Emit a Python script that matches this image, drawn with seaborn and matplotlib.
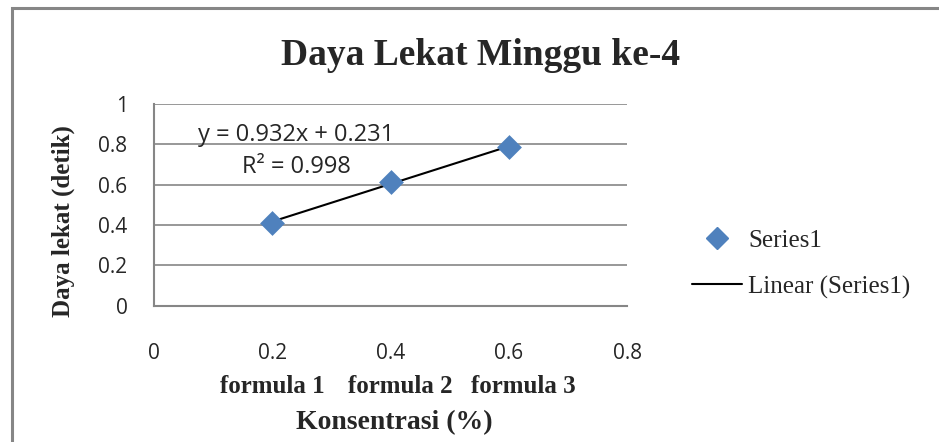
# Daya Lekat Minggu ke-4 - scatter with linear trendline

import numpy as np
import pandas as pd
import matplotlib
matplotlib.use("Agg")
import matplotlib.pyplot as plt
import seaborn as sns
from matplotlib.lines import Line2D
from matplotlib.patches import Rectangle

# Data
konsentrasi = [0.2, 0.4, 0.6]
daya_lekat = [0.4125, 0.6135, 0.7853]
formula_labels = ["formula 1", "formula 2", "formula 3"]
x_ticks = [0, 0.2, 0.4, 0.6, 0.8]
y_ticks = [0, 0.2, 0.4, 0.6, 0.8, 1]

df = pd.DataFrame({"x": konsentrasi, "y": daya_lekat})

sns.set_style("white")
serif = ["Liberation Serif", "DejaVu Serif"]
sans = ["Open Sans", "DejaVu Sans"]

fig = plt.figure(figsize=(9.39, 4.42), dpi=100)
ax = fig.add_axes([0.164, 0.308, 0.504, 0.457])

# Linear trendline
slope, intercept = np.polyfit(df["x"], df["y"], 1)
y_fit = slope * df["x"] + intercept
r2 = 1 - ((df["y"] - y_fit) ** 2).sum() / ((df["y"] - df["y"].mean()) ** 2).sum()
line_x = np.array([min(konsentrasi), max(konsentrasi)])
ax.plot(line_x, slope * line_x + intercept, color="black", lw=1.5, zorder=3)

# Points
sns.scatterplot(data=df, x="x", y="y", marker="D", s=160, color="#4F81BD",
                edgecolor="#4F81BD", linewidth=0, ax=ax, zorder=4)

ax.set_xlim(0, 0.8)
ax.set_ylim(0, 1)
ax.set_xticks(x_ticks)
ax.set_yticks(y_ticks)
ax.set_xticklabels([f"{t:g}" for t in x_ticks], fontsize=15, family=sans)
ax.set_yticklabels([f"{t:g}" for t in y_ticks], fontsize=15, family=sans)
ax.tick_params(axis="both", direction="out", length=7, width=1.2,
               color="#868686")
ax.tick_params(axis="y", pad=12)
ax.tick_params(axis="x", pad=20)

# Horizontal gridlines only
ax.grid(axis="y", color="#868686", lw=1.2)
ax.grid(axis="x", visible=False)
for s in ["top", "right"]:
    ax.spines[s].set_visible(False)
for s in ["left", "bottom"]:
    ax.spines[s].set_color("#868686")
    ax.spines[s].set_linewidth(1.5)

ax.set_xlabel("")
ax.set_ylabel("Daya lekat (detik)", fontsize=18, fontweight="bold",
              family=serif)
ax.yaxis.set_label_coords(-0.167, 0.418)

# Formula labels under ticks (slightly shifted right like the original)
shifts = [0, 10, 14]
for xv, lab, dx in zip(konsentrasi, formula_labels, shifts):
    ax.annotate(lab, xy=(xv, -0.4), xytext=(dx, 0), textcoords="offset pixels",
                ha="center", va="center", fontsize=18, fontweight="bold",
                family=serif, annotation_clip=False)

fig.text(0.42, 0.045, "Konsentrasi (%)", ha="center", va="center",
         fontsize=20, fontweight="bold", family=serif)

# Equation
ax.text(0.0745, 0.846, f"y = {slope:.3f}x + {intercept:.3f}", fontsize=17,
        family=sans, va="center")
ax.text(0.149, 0.685, f"R² = {r2:.3f}", fontsize=17, family=sans, va="center")

# Title
fig.text(0.512, 0.875, "Daya Lekat Minggu ke-4", ha="center", va="center",
         fontsize=27, fontweight="bold", family=serif)

# Legend
handles = [
    Line2D([], [], marker="D", ls="none", color="#4F81BD", markersize=11),
    Line2D([], [], color="black", lw=1.5),
]
fig.legend(handles, ["Series1", "Linear (Series1)"], loc="center left",
           bbox_to_anchor=(0.737, 0.403), frameon=False,
           prop={"family": serif, "size": 18}, handlelength=2.0,
           labelspacing=0.95, handletextpad=0.25, borderpad=0,
           borderaxespad=0)

# Outer chart border (left and top)
fig.add_artist(Rectangle((0.013, -0.05), 1.2, 1.032, transform=fig.transFigure,
                         fill=False, edgecolor="#868686", lw=2.2))

plt.savefig("out.png", dpi=100)
